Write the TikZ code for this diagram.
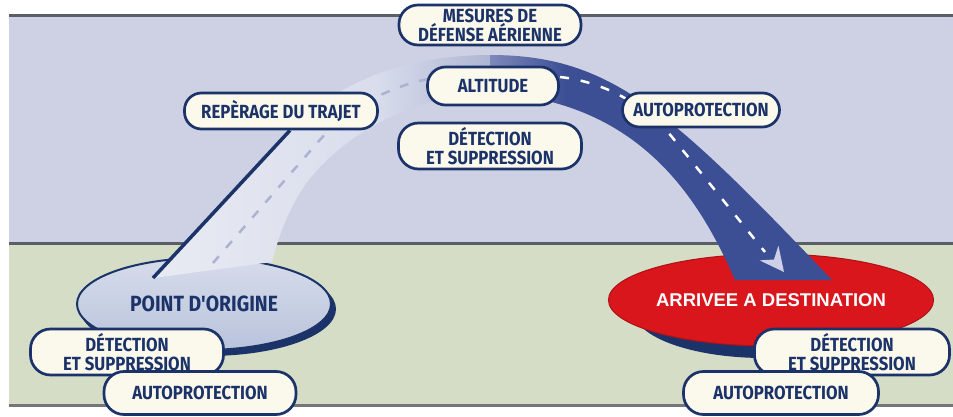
\documentclass[tikz,border=0pt]{standalone}
\usepackage{fontspec}
\newfontfamily\condf[FakeStretch=0.88]{Fira Sans}
\newfontfamily\arialf{Liberation Sans}
\usetikzlibrary{shapes.geometric}
\definecolor{lav}{HTML}{CDD1E3}
\definecolor{grn}{HTML}{D5DDC7}
\definecolor{bandline}{HTML}{5A5E66}
\definecolor{navy}{HTML}{1B3369}
\definecolor{road}{HTML}{3C4F94}
\definecolor{roadlight}{HTML}{7E89BA}
\definecolor{cream}{HTML}{FBF8EC}
\definecolor{redd}{HTML}{D8161C}
\definecolor{origtop}{HTML}{D6DCEB}
\definecolor{origbot}{HTML}{B9C3DB}
\definecolor{fadeA}{HTML}{E9EBF3}
\definecolor{fadeB}{HTML}{D9DDEC}
\definecolor{fadeC}{HTML}{AEB6D2}
\definecolor{ldash}{HTML}{AAB3D3}
\definecolor{tipc}{HTML}{CDD0E6}
\pgfdeclarehorizontalshading{rightroadsh}{100bp}{color(0bp)=(roadlight); color(25bp)=(roadlight); color(36bp)=(road); color(100bp)=(road)}
\pgfdeclarehorizontalshading{leftroadsh}{100bp}{color(0bp)=(fadeA); color(25bp)=(fadeA); color(58bp)=(fadeB); color(75bp)=(fadeC); color(100bp)=(fadeC)}
\begin{document}
\begin{tikzpicture}[x=1pt,y=-1pt,
  pill/.style={draw=navy, line width=2.7pt, fill=cream, inner sep=0pt, align=center,
    text=navy, font=\condf\bfseries\fontsize{19}{19}\selectfont},
  band/.style={line width=3pt, draw=bandline}
]
\useasboundingbox (0,0) rectangle (953,417);
\fill[white] (0,0) rectangle (953,417);
% bands
\fill[lav] (9,16) rectangle (953,243);
\fill[grn] (9,244) rectangle (953,404);
\draw[band] (9,15.5) -- (953,15.5);
\draw[band] (9,243.5) -- (953,243.5);
\draw[band, draw=bandline!80!grn] (9,405) -- (953,405);

% ellipses with shadows
\fill[navy] (208,309) ellipse [x radius=128, y radius=47];
\node[ellipse, draw=navy, line width=2pt, top color=origtop, bottom color=origbot,
  minimum width=254, minimum height=92, inner sep=0pt, text=navy,
  font=\condf\bfseries\fontsize{22}{22}\selectfont] (orig) at (204,304) {POINT D'ORIGINE};
\fill[navy] (764,311) ellipse [x radius=130, y radius=47];
\node[ellipse, draw=redd!80!black, line width=1pt, fill=redd,
  minimum width=258, minimum height=92, inner sep=0pt, text=white,
  font=\arialf\bfseries\fontsize{18.5}{18.5}\selectfont] (dest) at (771,300) {ARRIVEE A DESTINATION};

% left (faded) road
\shade[shading=leftroadsh] (153,278) -- (290,133) .. controls (340,75) and (420,55) .. (490,55)
  -- (490,93) .. controls (420,95) and (345,130) .. (305,185) .. controls (285,215) and (278,240) .. (272,262) -- cycle;
\draw[ldash, line width=2.5pt, dash pattern=on 9pt off 11pt] (213,263) -- (318,142) .. controls (350,105) and (400,80) .. (450,76);

% right (dark) road
\shade[shading=rightroadsh] (490,55) .. controls (610,55) and (670,110) .. (832,280)
  -- (735,280) .. controls (700,200) and (640,100) .. (490,93) -- cycle;
\coordinate (arrtip) at (784,272);
\draw[white, line width=2.5pt, dash pattern=on 9pt off 12pt] (560,77) .. controls (605,82) and (645,105) .. (672,137) -- (765,252);
\fill[tipc] (arrtip) -- (759.6,260.4) -- (774,259.5) -- (778.4,245.6) -- cycle;

% boxes
\node[pill, rounded corners=19pt, minimum width=182, minimum height=40] (mes) at (490,25) {MESURES DE\\D\'EFENSE A\'ERIENNE};
\node[pill, rounded corners=18pt, minimum width=131, minimum height=38] (alt) at (493,86) {ALTITUDE};
\node[pill, rounded corners=17pt, minimum width=193, minimum height=36] (rep) at (281,111) {REP\`ERAGE DU TRAJET};
\node[pill, rounded corners=17pt, minimum width=157, minimum height=34] (autoT) at (701,110) {AUTOPROTECTION};
\node[pill, rounded corners=20pt, minimum width=183, minimum height=46] (detC) at (490,146) {D\'ETECTION\\ET SUPPRESSION};

% connector from REPERAGE to point of origin
\coordinate (lend) at (153,278);
\draw[navy, line width=3.5pt] ([xshift=9pt]rep.south) -- (lend);

\node[pill, rounded corners=20pt, minimum width=193, minimum height=46] (detL) at (127,352) {D\'ETECTION\\ET SUPPRESSION};
\node[pill, rounded corners=20pt, minimum width=192, minimum height=43] (autoL) at (200,393) {AUTOPROTECTION};
\node[pill, rounded corners=20pt, minimum width=195, minimum height=46] (detR) at (852,352) {D\'ETECTION\\ET SUPPRESSION};
\node[pill, rounded corners=20pt, minimum width=195, minimum height=43] (autoR) at (781,393) {AUTOPROTECTION};
\end{tikzpicture}
\end{document}
